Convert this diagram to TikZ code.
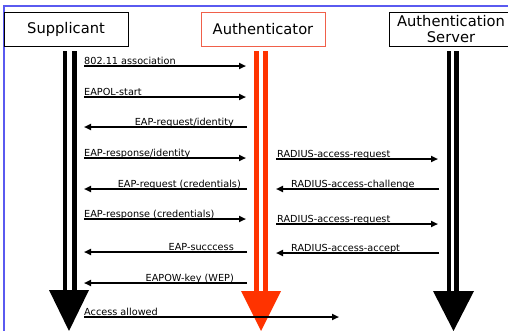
\documentclass[tikz,border=0pt]{standalone}
\usepackage{fontspec}
\setmainfont{DejaVu Sans}
\usetikzlibrary{arrows.meta}
\definecolor{authred}{HTML}{FF3300}
\definecolor{authframe}{HTML}{F0604A}
\definecolor{frameblue}{HTML}{5A5AF0}
\begin{document}
\begin{tikzpicture}[x=1pt,y=-1pt,
  hdr/.style={draw, line width=0.8pt, minimum width=124pt, minimum height=34pt, inner sep=0pt, align=center, font=\fontsize{14.7}{16.5}\selectfont},
  msg/.style={line width=1.8pt, -{Triangle[length=7pt,width=6pt]}},
  lbl/.style={inner sep=0pt, font=\fontsize{9.7}{11}\selectfont},
  life/.style={line width=4.5pt},
  ]
\clip (0,0) rectangle (508,330);
\draw[frameblue, line width=1.2pt] (4,331) -- (4,6) -- (509,6);
% headers
\node[hdr] (sup) at (66,29) {Supplicant};
\node[hdr, draw=authframe] (auth) at (263,29) {Authenticator};
\node[hdr] (srv) at (451,29) {Authentication\\Server};
% lifelines
\draw[life] (65,51) -- (65,292);
\draw[life] (74.5,51) -- (74.5,292);
\fill (49,290) -- (89,290) -- (69,331) -- cycle;
\draw[life, authred] (256.5,51) -- (256.5,292);
\draw[life, authred] (265.5,51) -- (265.5,292);
\fill[authred] (241,291) -- (281,291) -- (261,331) -- cycle;
\draw[life] (449,51) -- (449,292);
\draw[life] (456.5,51) -- (456.5,292);
\fill (433,291) -- (474,291) -- (453.5,331) -- cycle;
% message end points
\coordinate (s1) at (84,66);  \coordinate (a1) at (246,66);
\coordinate (s2) at (84,97);  \coordinate (a2) at (246,97);
\coordinate (s3) at (84,127); \coordinate (a3) at (247,127);
\coordinate (s4) at (84,158); \coordinate (a4) at (246,158);
\coordinate (b4) at (276,159); \coordinate (v4) at (438,159);
\coordinate (s5) at (84,189); \coordinate (a5) at (247,189);
\coordinate (b5) at (276,189); \coordinate (v5) at (439,189);
\coordinate (s6) at (84,219); \coordinate (a6) at (246,219);
\coordinate (b6) at (276,224); \coordinate (v6) at (438,224);
\coordinate (s7) at (84,252); \coordinate (a7) at (247,252);
\coordinate (b7) at (276,253); \coordinate (v7) at (439,253);
\coordinate (s8) at (84,283); \coordinate (a8) at (247,283);
\coordinate (s9) at (84,317); \coordinate (e9) at (339,317);
% messages
\draw[msg] (s1) -- (a1);
\draw[msg] (s2) -- (a2);
\draw[msg] (a3) -- (s3);
\draw[msg] (s4) -- (a4);
\draw[msg] (b4) -- (v4);
\draw[msg] (a5) -- (s5);
\draw[msg] (v5) -- (b5);
\draw[msg] (s6) -- (a6);
\draw[msg] (b6) -- (v6);
\draw[msg] (a7) -- (s7);
\draw[msg] (v7) -- (b7);
\draw[msg] (a8) -- (s8);
\draw[msg] (s9) -- (e9);
% labels
\node[lbl, anchor=base west] (l1) at (84,64) {802.11 association};
\node[lbl, anchor=base west] (l2) at (84,95) {EAPOL-start};
\node[lbl, anchor=base east] (l3) at (234,125) {EAP-request/identity};
\node[lbl, anchor=base west] (l4) at (84,156) {EAP-response/identity};
\node[lbl, anchor=base west] (r4) at (277,157) {RADIUS-access-request};
\node[lbl, anchor=base east] (l5) at (241,187) {EAP-request (credentials)};
\node[lbl, anchor=base west] (r5) at (291,187) {RADIUS-access-challenge};
\node[lbl, anchor=base west] (l6) at (84,217) {EAP-response (credentials)};
\node[lbl, anchor=base west] (r6) at (277,222) {RADIUS-access-request};
\node[lbl, anchor=base east] (l7) at (234,250) {EAP-succcess};
\node[lbl, anchor=base west] (r7) at (291,251) {RADIUS-access-accept};
\node[lbl, anchor=base east] (l8) at (234,281) {EAPOW-key (WEP)};
\node[lbl, anchor=base west] (l9) at (84,315) {Access allowed};
\end{tikzpicture}
\end{document}
